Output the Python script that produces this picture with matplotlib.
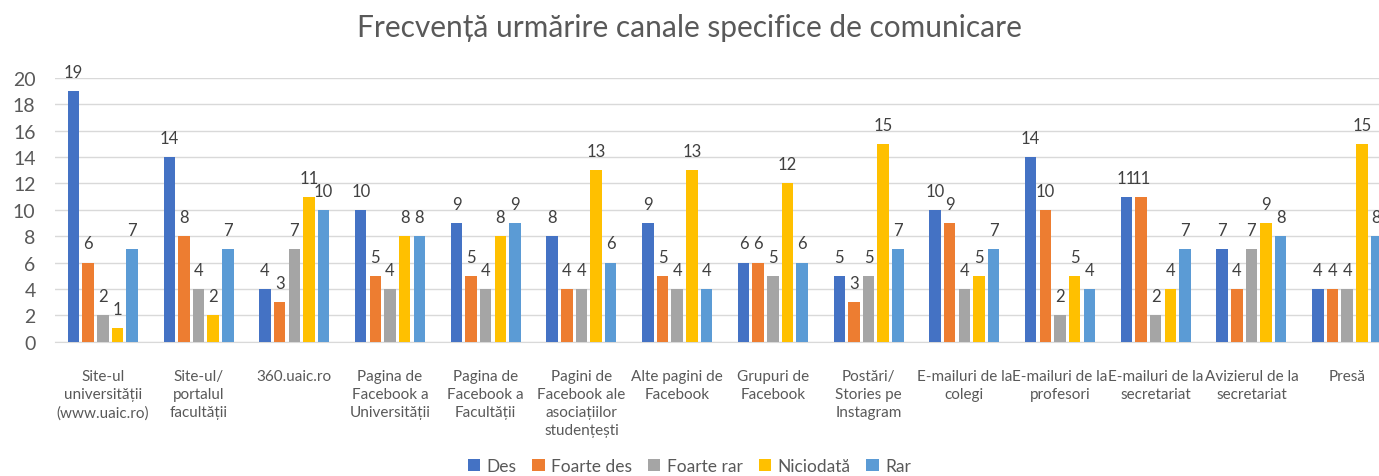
import numpy as np
import matplotlib
matplotlib.use("Agg")
import matplotlib.pyplot as plt

plt.rcParams['font.family'] = ['Lato', 'DejaVu Sans']

categories = [
    "Site-ul\nuniversității\n(www.uaic.ro)",
    "Site-ul/\nportalul\nfacultății",
    "360.uaic.ro",
    "Pagina de\nFacebook a\nUniversității",
    "Pagina de\nFacebook a\nFacultății",
    "Pagini de\nFacebook ale\nasociațiilor\nstudențești",
    "Alte pagini de\nFacebook",
    "Grupuri de\nFacebook",
    "Postări/\nStories pe\nInstagram",
    "E-mailuri de la\ncolegi",
    "E-mailuri de la\nprofesori",
    "E-mailuri de la\nsecretariat",
    "Avizierul de la\nsecretariat",
    "Presă",
]

series_names = ["Des", "Foarte des", "Foarte rar", "Niciodată", "Rar"]
des = [19, 14, 4, 10, 9, 8, 9, 6, 5, 10, 14, 11, 7, 4]
foarte_des = [6, 8, 3, 5, 5, 4, 5, 6, 3, 9, 10, 11, 4, 4]
foarte_rar = [2, 4, 7, 4, 4, 4, 4, 5, 5, 4, 2, 2, 7, 4]
niciodata = [1, 2, 11, 8, 8, 13, 13, 12, 15, 5, 5, 4, 9, 15]
rar = [7, 7, 10, 8, 9, 6, 4, 6, 7, 7, 4, 7, 8, 8]

colors = ["#4472C4", "#ED7D31", "#A5A5A5", "#FFC000", "#5B9BD5"]
text_color = "#595959"

fig = plt.figure(figsize=(13.79, 4.77), dpi=100)
ax = fig.add_axes([0.0399, 0.2816, 0.9717, 0.5528])

x = np.arange(len(categories))
width = 0.12
pitch = 0.153
all_series = [des, foarte_des, foarte_rar, niciodata, rar]
for i, (name, vals, col) in enumerate(zip(series_names, all_series, colors)):
    offs = (i - 2) * pitch
    bars = ax.bar(x + offs, vals, width, color=col, label=name, zorder=3)
    ax.bar_label(bars, padding=8, fontsize=12, color="#404040")

ax.set_xlim(-0.5, len(categories) - 0.5)
ax.set_ylim(0, 20)
ax.set_yticks(range(0, 21, 2))
ax.yaxis.grid(True, color="#D9D9D9", linewidth=1, zorder=0)
ax.set_axisbelow(True)
for s in ["top", "right", "left"]:
    ax.spines[s].set_visible(False)
ax.spines["bottom"].set_color("#D9D9D9")
ax.tick_params(axis="y", length=0, labelsize=14, labelcolor=text_color, pad=14)
ax.tick_params(axis="x", length=0, labelsize=11, labelcolor=text_color, pad=20)
ax.set_xticks(x)
ax.set_xticklabels(categories, linespacing=1.35)

fig.text(0.5, 1 - 28 / 477, "Frecvență urmărire canale specifice de comunicare",
         fontsize=21.5, color=text_color, ha="center", va="center")

fig.legend(loc="center", bbox_to_anchor=(0.5, 1 - 467 / 477), ncol=5, frameon=False,
           fontsize=12.5, handlelength=0.7, handleheight=0.7, handletextpad=0.4,
           columnspacing=0.9, labelcolor=text_color)

fig.savefig("out.png", dpi=100)
